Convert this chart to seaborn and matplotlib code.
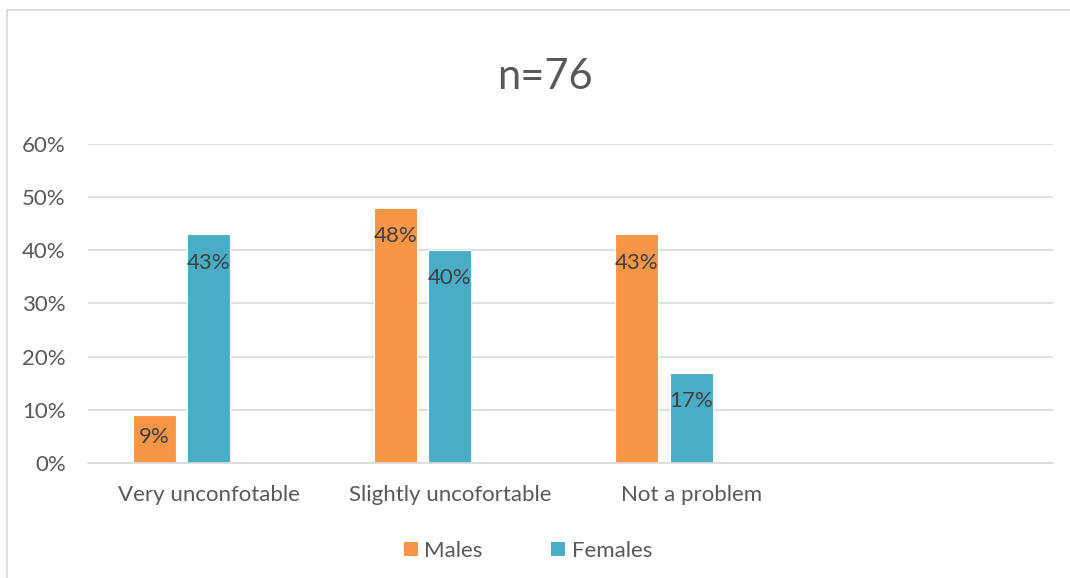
import matplotlib
matplotlib.use("Agg")
import matplotlib.pyplot as plt
from matplotlib.lines import Line2D
from matplotlib.patches import Patch
import pandas as pd
import seaborn as sns

# data
categories = ["Very unconfotable", "Slightly uncofortable", "Not a problem", ""]
series = ["Males", "Females"]
males = [9, 48, 43]
females = [43, 40, 17]
colors = {"Males": "#F79646", "Females": "#4BACC6", " ": "#FFFFFF"}
y_ticks = [0, 10, 20, 30, 40, 50, 60]

TEXT = "#595959"
GRID = "#D9D9D9"

sns.set_style("white")
plt.rcParams["font.family"] = ["Lato", "DejaVu Sans"]

rows = []
for cat, m, f in zip(categories, males, females):
    rows.append({"cat": cat, "sex": "Males", "value": m})
    rows.append({"cat": cat, "sex": "Females", "value": f})
df = pd.DataFrame(rows)

fig = plt.figure(figsize=(10.7, 5.78), dpi=100)
ax = fig.add_axes([0.0822, 0.199, 0.9019, 0.552])

sns.barplot(data=df, x="cat", y="value", hue="sex", order=categories,
            hue_order=series + [" "], palette=colors, saturation=1,
            width=0.678, gap=0.21, edgecolor="white", linewidth=0.8,
            errorbar=None, legend=False, ax=ax)

ax.set_ylim(0, 60)
ax.set_xlim(-0.5, len(categories) - 0.5)
ax.set_yticks(y_ticks)
ax.set_yticklabels([f"{t}%" for t in y_ticks])
ax.yaxis.grid(True, color=GRID, linewidth=1.2)
ax.set_axisbelow(True)
for side in ["left", "right", "top"]:
    ax.spines[side].set_visible(False)
ax.spines["bottom"].set_color(GRID)
ax.spines["bottom"].set_linewidth(1.2)
ax.tick_params(axis="both", length=0, labelsize=16, labelcolor=TEXT)
ax.tick_params(axis="y", pad=16)
ax.tick_params(axis="x", pad=16)
ax.set_xlabel("")
ax.set_ylabel("")

# data labels, inside end
for container in ax.containers:
    for bar in container:
        h = bar.get_height()
        if not h == h or h == 0:
            continue
        cy = max(h - 5.3, h / 2 + 0.4)
        ax.text(bar.get_x() + bar.get_width() / 2, cy, f"{h:.0f}%",
                ha="center", va="center", fontsize=16, color="#404040")

fig.suptitle("n=76", x=0.509, y=0.90, fontsize=30, color=TEXT)

handles = [Patch(facecolor=colors[s], edgecolor="none", label=s) for s in series]
fig.legend(handles=handles, loc="center", bbox_to_anchor=(0.4935, 0.047), ncol=2,
           frameon=False, fontsize=16, labelcolor=TEXT, handlelength=0.63,
           handleheight=0.63, handletextpad=0.3, columnspacing=3.1)

# chart area border (top and left edges visible)
fig.add_artist(Line2D([7 / 1070, 1], [1 - 10 / 578, 1 - 10 / 578], color=GRID, linewidth=1.2))
fig.add_artist(Line2D([7 / 1070, 7 / 1070], [0, 1 - 10 / 578], color=GRID, linewidth=1.2))

fig.savefig("out.png", dpi=100)
